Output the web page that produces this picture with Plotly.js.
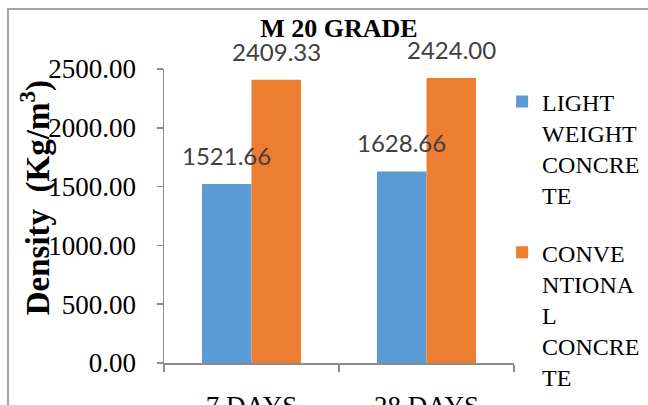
<!DOCTYPE html>
<html>
<head>
<meta charset="utf-8">
<script src="https://cdn.plot.ly/plotly-3.0.1.min.js"></script>
<style>
  html, body { margin: 0; padding: 0; background: #ffffff; overflow: hidden; }
  #wrap { position: relative; width: 648px; height: 405px; }
  #frame { position: absolute; left: 7px; top: 8px; width: 700px; height: 500px;
           border: 2px solid #a6a6a6; box-sizing: border-box; pointer-events: none; }
  #chart { position: absolute; left: 0; top: 0; width: 648px; height: 405px; }
</style>
</head>
<body>
<div id="wrap">
  <div id="frame"></div>
  <div id="chart"></div>
</div>
<script>
const categories = ["7 DAYS", "28 DAYS"];
const lightWeight = [1521.66, 1628.66];
const conventional = [2409.33, 2424.00];
const seriesNames = ["LIGHT<br>WEIGHT<br>CONCRE<br>TE", "CONVE<br>NTIONA<br>L<br>CONCRE<br>TE"];
const yTicks = [0, 500, 1000, 1500, 2000, 2500];

const serif = "Liberation Serif, Times New Roman, serif";

const traces = [
  { type: "bar", x: categories, y: lightWeight, name: seriesNames[0],
    marker: { color: "#5B9BD5" }, legendgroup: "a", hoverinfo: "y" },
  { type: "bar", x: categories, y: conventional, name: seriesNames[1],
    marker: { color: "#ED7D31" }, legendgroup: "b", hoverinfo: "y" }
];

const annotations = [];
[lightWeight, conventional].forEach((vals, si) => {
  vals.forEach((v, i) => {
    annotations.push({
      x: categories[i], y: v, xref: "x", yref: "y",
      text: v.toFixed(2), showarrow: false,
      xshift: si === 0 ? -25 : 25, yshift: 12,
      yanchor: "bottom", xanchor: "center",
      font: { family: "Lato, sans-serif", size: 24, color: "#404040" }
    });
  });
});
annotations.push({
  xref: "paper", yref: "paper", x: -0.368, y: 0.561,
  text: "<b>Density  (Kg/m<sup>3</sup>)</b>", textangle: -90, showarrow: false,
  xanchor: "center", yanchor: "middle",
  font: { family: serif, size: 33, color: "#000000" }
});

const layout = {
  width: 648, height: 405,
  margin: { l: 164, r: 134, t: 69, b: 42, pad: 0, autoexpand: false },
  paper_bgcolor: "rgba(0,0,0,0)", plot_bgcolor: "rgba(0,0,0,0)",
  title: { text: "<b>M 20 GRADE</b>", x: 0.5, xref: "paper", y: 0.93, yref: "container",
           yanchor: "middle", font: { family: serif, size: 26, color: "#000000" } },
  barmode: "group", bargap: 0.434, bargroupgap: 0,
  xaxis: { type: "category", showline: true, linecolor: "#8c8c8c", linewidth: 1.5,
           ticks: "outside", ticklen: 7, tickcolor: "#8c8c8c", tickwidth: 1.5,
           tickson: "boundaries", ticklabelstandoff: 18, automargin: false,
           tickfont: { family: serif, size: 27, color: "#000000" }, showgrid: false, zeroline: false },
  yaxis: { range: [0, 2500], tickvals: yTicks, tickformat: ".2f",
           showline: true, linecolor: "#8c8c8c", linewidth: 1.5,
           ticks: "outside", ticklen: 6, tickcolor: "#8c8c8c", tickwidth: 1.5,
           ticklabelstandoff: 15, automargin: false,
           tickfont: { family: serif, size: 27, color: "#000000" }, showgrid: false, zeroline: false },
  showlegend: true,
  legend: { x: 0.966, xanchor: "left", y: 0.965, yanchor: "top", valign: "top",
            traceorder: "grouped", tracegroupgap: 23, bgcolor: "rgba(0,0,0,0)",
            maxheight: 2000, borderwidth: 0,
            font: { family: serif, size: 24, color: "#000000" } },
  annotations: annotations
};

Plotly.newPlot("chart", traces, layout, { displayModeBar: false, staticPlot: true });
</script>
</body>
</html>
